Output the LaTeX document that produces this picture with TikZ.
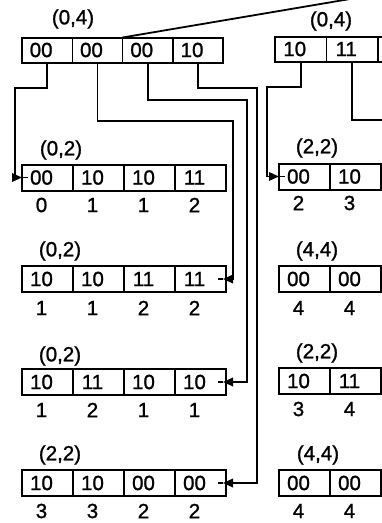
\documentclass[tikz,border=0pt]{standalone}
\usepackage{fontspec}
\setmainfont[FakeBold=1.2,AutoFakeBold=1.2]{Liberation Sans}
\usetikzlibrary{arrows.meta,calc}
\newcommand{\mkrec}[5]{% name, x0, yc, cell width, texts
  \foreach \t [count=\i] in {#5} {
    \node[cell, minimum width=#4pt] (#1-\i) at ({#2+#4*(\i-0.5)},#3) {};
    \node[txt] (#1-\i-t) at ({#2+#4*(\i-0.5)-6},#3) {\t};
  }
}
\newcommand{\mknum}[5]{% name, x0, y, cell width, numbers
  \foreach \n [count=\i] in {#5} {
    \node[txt] (#1-\i-n) at ({#2+#4*(\i-0.5)-6},#3) {\n};
  }
}
\begin{document}
\begin{tikzpicture}[x=1pt,y=-1pt,
  cell/.style={draw,line width=1.3pt,minimum height=26pt,inner sep=0pt,outer sep=0pt},
  txt/.style={inner sep=0pt,font=\fontsize{20.5}{23}\bfseries},
  lab/.style={inner sep=0pt,font=\fontsize{20.5}{23}\bfseries},
  frame/.style={draw,line width=2pt},
  conn/.style={line width=1.8pt},
  arr/.style={conn,-{Triangle[length=10pt,width=8.5pt]}}
]
\useasboundingbox (0,0) rectangle (382,523);
\clip (0,0) rectangle (382,523);
% top records
\begin{scope}[cell/.style={draw,line width=1.3pt,minimum height=25pt,inner sep=0pt,outer sep=0pt}]
\mkrec{T}{22}{50}{50.3}{00,00,00,10}
\mkrec{R0}{275}{49}{51.5}{10,11,{},{}}
\end{scope}
\draw[frame] (T-1.north west) rectangle (T-4.south east);
\draw[frame] (R0-1.north west) rectangle (R0-4.south east);
\node[lab] (Tl) at (73,19) {(0,4)};
\node[lab] (R0l) at (331,21) {(0,4)};
% left column
\mkrec{L1}{22}{177.5}{51}{00,10,10,11}
\mkrec{L2}{22}{279}{51}{10,10,11,11}
\mkrec{L3}{22}{382}{51}{10,11,10,10}
\mkrec{L4}{22}{483}{51}{10,10,00,00}
\foreach \r in {L1,L2,L3,L4} \draw[frame] (\r-1.north west) rectangle (\r-4.south east);
\mknum{L1}{22}{205}{51}{0,1,1,2}
\mknum{L2}{22}{308}{51}{1,1,2,2}
\mknum{L3}{22}{410}{51}{1,2,1,1}
\mknum{L4}{22}{511}{51}{3,3,2,2}
\node[lab] (L1l) at (61,150) {(0,2)};
\node[lab] (L2l) at (60,251) {(0,2)};
\node[lab] (L3l) at (60,356) {(0,2)};
\node[lab] (L4l) at (60,455) {(2,2)};
% right column
\mkrec{R1}{279}{176.5}{51}{00,10,{},{}}
\mkrec{R2}{279}{279}{51}{00,00,{},{}}
\mkrec{R3}{279}{381}{51}{10,11,{},{}}
\mkrec{R4}{279}{483}{51}{00,00,{},{}}
\foreach \r in {R1,R2,R3,R4} \draw[frame] (\r-1.north west) rectangle (\r-4.south east);
\mknum{R1}{279}{203}{51}{2,3}
\mknum{R2}{279}{308}{51}{4,4}
\mknum{R3}{279}{409}{51}{3,4}
\mknum{R4}{279}{511}{51}{4,4}
\node[lab] (R1l) at (317,148) {(2,2)};
\node[lab] (R2l) at (317,251) {(4,4)};
\node[lab] (R3l) at (317,353) {(2,2)};
\node[lab] (R4l) at (318,455) {(4,4)};
% connectors
\coordinate (up) at (409,-11);
\coordinate (redge) at (390,120);
\draw[conn] (T-3.north west) -- (up);
\draw[arr] (T-1.south) |- (15,88) |- (L1-1.west);
\draw[conn] (L1-1.west) -- ++(6,0);
\draw[arr] (T-2.south) |- (233,121) |- ($(L2-4.east)+(-3,0)$);
\draw[conn] ($(L2-4.east)+(-3,0)$) -- ++(-5,0);
\draw[arr] (T-3.south) |- (247,100) |- ($(L3-4.east)+(-3,0)$);
\draw[conn] ($(L3-4.east)+(-3,0)$) -- ++(-5,0);
\draw[arr] (T-4.south) |- (257,88) |- ($(L4-4.east)+(-3,0)$);
\draw[conn] ($(L4-4.east)+(-3,0)$) -- ++(-5,0);
\draw[arr] (R0-1.south) |- (267,87) |- (R1-1.west);
\draw[conn] (R1-1.west) -- ++(6,0);
\draw[conn] (R0-2.south) |- (redge);
\end{tikzpicture}
\end{document}
